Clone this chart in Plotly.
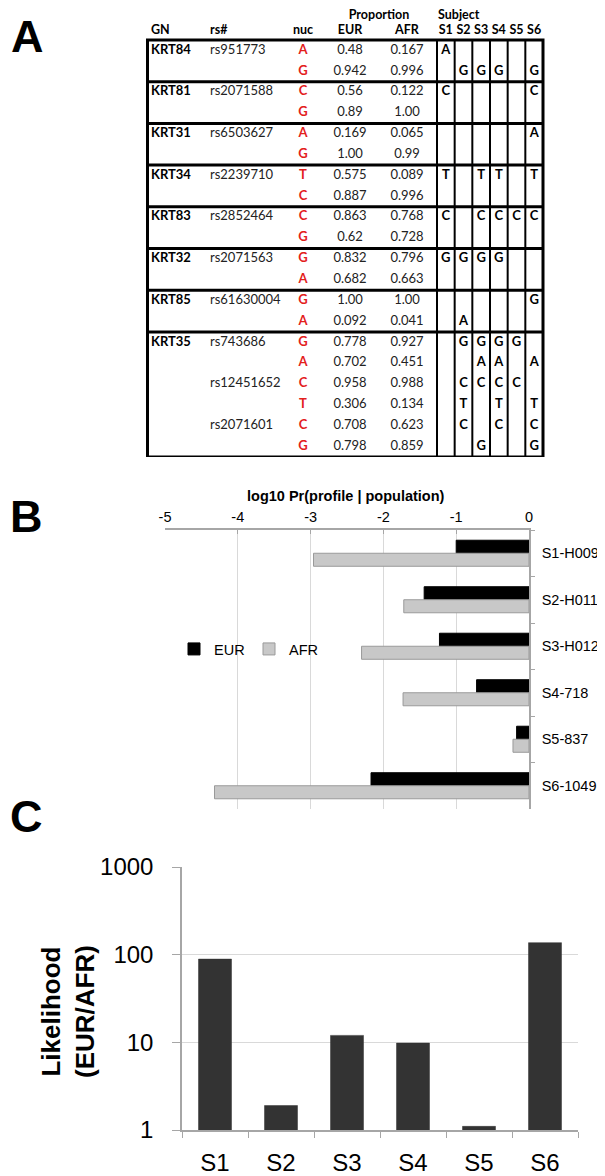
import plotly.graph_objects as go

W, H = 605, 1176
PAD = 8  # default body margin of the html page
FW, FH = W - PAD, H - PAD

# ---- panel A: table data ----
gene_names = ["KRT84", "KRT81", "KRT31", "KRT34", "KRT83", "KRT32", "KRT85", "KRT35"]
gene_rows = [2, 2, 2, 2, 2, 2, 2, 6]
rs_ids = ["rs951773", "", "rs2071588", "", "rs6503627", "", "rs2239710", "",
          "rs2852464", "", "rs2071563", "", "rs61630004", "",
          "rs743686", "", "rs12451652", "", "rs2071601", ""]
nuc = list("AGCGAGTCCGGAGAGACTCG")
eur_prop = ["0.48", "0.942", "0.56", "0.89", "0.169", "1.00", "0.575", "0.887", "0.863", "0.62",
            "0.832", "0.682", "1.00", "0.092", "0.778", "0.702", "0.958", "0.306", "0.708", "0.798"]
afr_prop = ["0.167", "0.996", "0.122", "1.00", "0.065", "0.99", "0.089", "0.996", "0.768", "0.728",
            "0.796", "0.663", "1.00", "0.041", "0.927", "0.451", "0.988", "0.134", "0.623", "0.859"]
subject_cols = ["S1", "S2", "S3", "S4", "S5", "S6"]
genotypes = ["A.....", ".GGG.G", "C....C", "......", ".....A", "......",
             "T.TT.T", "......", "C.CCCC", "......", "GGGG..", "......",
             ".....G", ".A....", ".GGGG.", "..AA.A", ".CCCC.", ".T.T.T",
             ".C.C.C", "..G..G"]

# ---- panel B ----
profiles = ["S1-H009", "S2-H011", "S3-H012", "S4-718", "S5-837", "S6-1049"]
eur_log = [-1.00, -1.44, -1.23, -0.72, -0.17, -2.17]
afr_log = [-2.96, -1.72, -2.30, -1.73, -0.22, -4.32]
b_ticks = [-5, -4, -3, -2, -1, 0]

# ---- panel C ----
subjects = ["S1", "S2", "S3", "S4", "S5", "S6"]
likelihood = [89, 1.9, 12, 9.8, 1.1, 137]
c_ticks = [1, 10, 100, 1000]


def fx(p):
    return (p - PAD) / FW


def fy(p):
    return 1 - (p - PAD) / FH


ARIAL = "Liberation Sans, Arial, sans-serif"
CALI = "Lato, Noto Sans, sans-serif"
GRID = "#d9d9d9"
AXL = "#a6a6a6"
TS = 13
HS = 12.5

fig = go.Figure()

# ---------------- table (A) ----------------
n_rows = len(nuc)
rows = [i + 0.5 for i in range(n_rows)]
col_x = {"gn": 151, "rs": 210, "nuc": 303, "eur": 350, "afr": 407}
table_left, table_right = 147.5, 543
subj_left, subj_w = 437, (543 - 437) / 6
subj_x = [subj_left + subj_w * (k + 0.5) for k in range(6)]
row_h = 20.85
head1, head2 = -0.42, -1.16

gn_y, gn_t = [], []
r = 0
for g, n in zip(gene_names, gene_rows):
    gn_y.append(r + 0.5)
    gn_t.append(g)
    r += n

tbl = dict(xaxis="x3", yaxis="y3", mode="text", hoverinfo="skip", showlegend=False, cliponaxis=False)
fig.add_trace(go.Scatter(x=[col_x["gn"]] * len(gn_t), y=gn_y, text=gn_t, textposition="middle right",
                         textfont=dict(family=CALI, size=TS, color="black", weight="bold"), **tbl))
fig.add_trace(go.Scatter(x=[col_x["rs"]] * n_rows, y=rows, text=rs_ids, textposition="middle right",
                         textfont=dict(family=CALI, size=TS, color="#222"), **tbl))
fig.add_trace(go.Scatter(x=[col_x["nuc"]] * n_rows, y=rows, text=nuc, textposition="middle center",
                         textfont=dict(family=CALI, size=TS, color="#e3201b", weight="bold"), **tbl))
fig.add_trace(go.Scatter(x=[col_x["eur"]] * n_rows, y=rows, text=eur_prop, textposition="middle center",
                         textfont=dict(family=CALI, size=TS, color="#222"), **tbl))
fig.add_trace(go.Scatter(x=[col_x["afr"]] * n_rows, y=rows, text=afr_prop, textposition="middle center",
                         textfont=dict(family=CALI, size=TS, color="#222"), **tbl))

gx, gy, gt = [], [], []
for i, row in enumerate(genotypes):
    for k, ch in enumerate(row):
        if ch != ".":
            gx.append(subj_x[k])
            gy.append(i + 0.5)
            gt.append(ch)
fig.add_trace(go.Scatter(x=gx, y=gy, text=gt, textposition="middle center",
                         textfont=dict(family=CALI, size=TS, color="black", weight="bold"), **tbl))

# headers
hx = [col_x["gn"], col_x["rs"]]
fig.add_trace(go.Scatter(x=hx + [438], y=[head1, head1, head2], text=["GN", "rs#", "Subject"],
                         textposition="middle right",
                         textfont=dict(family=CALI, size=HS, color="black", weight="bold"), **tbl))
fig.add_trace(go.Scatter(x=[col_x["nuc"], col_x["eur"], col_x["afr"], 379] + subj_x,
                         y=[head1, head1, head1, head2] + [head1] * 6,
                         text=["nuc", "EUR", "AFR", "Proportion"] + subject_cols,
                         textposition="middle center",
                         textfont=dict(family=CALI, size=HS, color="black", weight="bold"), **tbl))

shapes = []
# group separators
r = 0
for n in gene_rows[:-1]:
    r += n
    shapes.append(dict(type="line", xref="x3", yref="y3", x0=table_left, x1=table_right, y0=r, y1=r,
                       line=dict(color="black", width=3)))
# subject column lines
for k in range(6):
    xv = subj_left + subj_w * k
    shapes.append(dict(type="line", xref="x3", yref="y3", x0=xv, x1=xv, y0=0, y1=n_rows,
                       line=dict(color="black", width=2)))
shapes.append(dict(type="rect", xref="x3", yref="y3", x0=table_left, x1=table_right, y0=0, y1=n_rows,
                   line=dict(color="black", width=3)))

# ---------------- bars (B) ----------------
fig.add_trace(go.Bar(y=profiles, x=eur_log, orientation="h", name="EUR", xaxis="x", yaxis="y",
                     marker=dict(color="black", line=dict(color="black", width=1))))
fig.add_trace(go.Bar(y=profiles, x=afr_log, orientation="h", name="AFR", xaxis="x", yaxis="y",
                     marker=dict(color="#c8c8c8", line=dict(color="#9a9a9a", width=1))))

# ---------------- bars (C) ----------------
fig.add_trace(go.Bar(x=subjects, y=likelihood, xaxis="x2", yaxis="y2", width=0.5, showlegend=False,
                     marker=dict(color="#333333", line=dict(color="#333333", width=0.5))))


def label(text, x, y, size, angle=0):
    return dict(text=text, x=fx(x), y=fy(y), xref="paper", yref="paper", showarrow=False,
                xanchor="center", yanchor="middle", textangle=angle,
                font=dict(family=ARIAL, size=size, color="black"))


fig.update_layout(
    width=FW, height=FH,
    margin=dict(l=0, r=0, t=0, b=0, autoexpand=False),
    paper_bgcolor="white", plot_bgcolor="rgba(0,0,0,0)",
    barmode="group", bargap=0.44, bargroupgap=0,
    showlegend=True,
    legend=dict(orientation="h", x=fx(174), y=fy(649), xanchor="left", yanchor="middle",
                font=dict(family=ARIAL, size=14.5, color="black"), bgcolor="rgba(0,0,0,0)",
                entrywidth=30, entrywidthmode="pixels", traceorder="normal", itemclick=False),
    xaxis=dict(domain=[fx(165), fx(529)], range=[-5, 0], side="top", anchor="y", automargin=False,
               tickvals=b_ticks, ticktext=[str(v) for v in b_ticks],
               showgrid=True, gridcolor=GRID, gridwidth=1, zeroline=False,
               showline=True, linecolor=AXL, linewidth=1.5,
               ticks="inside", ticklen=4, tickcolor=AXL,
               tickfont=dict(family=ARIAL, size=14.5, color="black"), fixedrange=True),
    yaxis=dict(domain=[fy(809), fy(530)], anchor="x", side="right", autorange="reversed",
               type="category", showgrid=False, zeroline=False, automargin=False,
               showline=True, linecolor=AXL, linewidth=1.5,
               ticks="outside", tickson="boundaries", ticklen=4, tickcolor=AXL,
               ticklabelstandoff=8,
               tickfont=dict(family=ARIAL, size=14.5, color="black"), fixedrange=True),
    xaxis2=dict(domain=[fx(182), fx(578)], anchor="y2", type="category", automargin=False,
                showgrid=False, zeroline=False, showline=True, linecolor=AXL, linewidth=1.5,
                ticks="outside", tickson="boundaries", ticklen=6, tickcolor=AXL,
                ticklabelstandoff=10,
                tickfont=dict(family=ARIAL, size=24, color="black"), fixedrange=True),
    yaxis2=dict(domain=[fy(1130), fy(867)], anchor="x2", type="log", range=[0, 3], automargin=False,
                tickvals=c_ticks, ticktext=[str(v) for v in c_ticks],
                showgrid=True, gridcolor=GRID, gridwidth=1, zeroline=False,
                showline=True, linecolor=AXL, linewidth=1.5,
                ticks="outside", ticklen=8, tickcolor=AXL, ticklabelstandoff=14,
                tickfont=dict(family=ARIAL, size=24, color="black"), fixedrange=True),
    xaxis3=dict(domain=[0, 1], range=[PAD, W], anchor="y3", visible=False, fixedrange=True, automargin=False),
    yaxis3=dict(domain=[fy(457), 1], range=[n_rows, -(40 - PAD) / row_h], anchor="x3", visible=False,
                fixedrange=True, automargin=False),
    shapes=shapes,
    annotations=[
        label("<b>A</b>", 27, 37, 45),
        label("<b>B</b>", 26, 516, 45),
        label("<b>C</b>", 26, 816, 45),
        label("<b>log10 Pr(profile | population)</b>", 346, 496, 14.5),
        label("<b>Likelihood<br>(EUR/AFR)</b>", 68, 1012, 26, -90),
    ],
)

fig.write_html("out.html")
